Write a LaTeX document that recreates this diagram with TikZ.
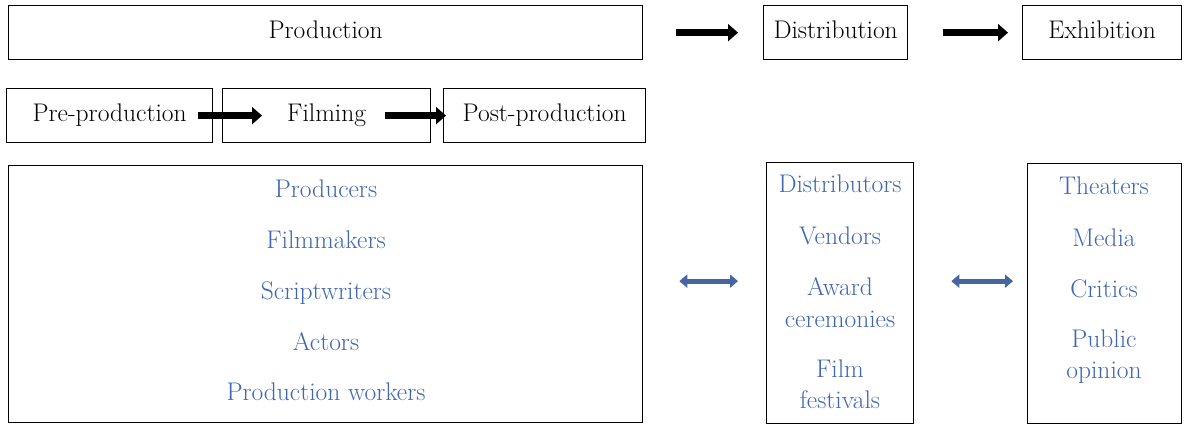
\documentclass[tikz,border=0pt]{standalone}
\usetikzlibrary{arrows.meta}
\definecolor{txtblue}{HTML}{4066B0}
\definecolor{arrblue}{HTML}{4565A0}
\begin{document}
\begin{tikzpicture}[x=1pt,y=-1pt,
  box/.style={draw=black, line width=1.3pt, inner sep=0pt, anchor=north west,
    font=\fontsize{25.5}{30}\selectfont, text height=17pt, text depth=5pt},
  blk/.style={line width=7.5pt, -{Triangle[length=10pt,width=17pt]}},
  dbl/.style={draw=arrblue, line width=5pt,
    {Triangle[length=8pt,width=13pt]}-{Triangle[length=8pt,width=13pt]}},
  item/.style={text=txtblue, font=\fontsize{25.5}{30}\selectfont, anchor=base, inner sep=0pt}]
\useasboundingbox (0,0) rectangle (1189,425);
% top row
\node[box, minimum width=634pt, minimum height=54pt] (prod) at (8,5) {Production};
\node[box, minimum width=144pt, minimum height=54pt] (dist) at (763,5) {Distribution};
\node[box, minimum width=159pt, minimum height=54pt] (exh) at (1022,5) {Exhibition};
% second row
\node[box, minimum width=206pt, minimum height=54pt] (pre) at (6,88) {Pre-production};
\node[box, minimum width=208pt, minimum height=54pt] (film) at (222,88) {Filming};
\node[box, minimum width=202pt, minimum height=54pt] (post) at (443,88) {Post-production};
% bottom boxes
\node[box, minimum width=634pt, minimum height=257pt] (big) at (8,165) {};
\node[box, minimum width=147pt, minimum height=261pt] (dist2) at (766,162) {};
\node[box, minimum width=154pt, minimum height=260pt] (exh2) at (1027,163) {};
% arrows
\draw[blk, shorten <=33pt, shorten >=25pt] (prod) -- (dist);
\draw[blk, shorten <=35pt, shorten >=14pt] (dist) -- (exh);
\draw[blk, shorten <=-15pt, shorten >=-40pt] (pre) -- (film);
\draw[blk, shorten <=-46pt, shorten >=-3pt] (film) -- (post);
\draw[dbl, shorten <=36pt, shorten >=28pt] ([yshift=13pt]big.east) -- ([yshift=13pt]big.east -| dist2.west);
\draw[dbl, shorten <=37pt, shorten >=14pt] ([yshift=12pt]dist2.east) -- ([yshift=12pt]dist2.east -| exh2.west);
% items
\node[item] (p1) at (326,197) {Producers};
\node[item] (p2) at (326,248) {Filmmakers};
\node[item] (p3) at (326,299) {Scriptwriters};
\node[item] (p4) at (326,350) {Actors};
\node[item] (p5) at (326,400) {Production workers};
\node[item] (d1) at (840,193) {Distributors};
\node[item] (d2) at (840,244) {Vendors};
\node[item] (d3) at (840,295) {Award};
\node[item] (d4) at (840,327) {ceremonies};
\node[item] (d5) at (840,377) {Film};
\node[item] (d6) at (840,408) {festivals};
\node[item] (e1) at (1104,194) {Theaters};
\node[item] (e2) at (1104,246) {Media};
\node[item] (e3) at (1104,297) {Critics};
\node[item] (e4) at (1104,347) {Public};
\node[item] (e5) at (1104,378) {opinion};
\end{tikzpicture}
\end{document}
